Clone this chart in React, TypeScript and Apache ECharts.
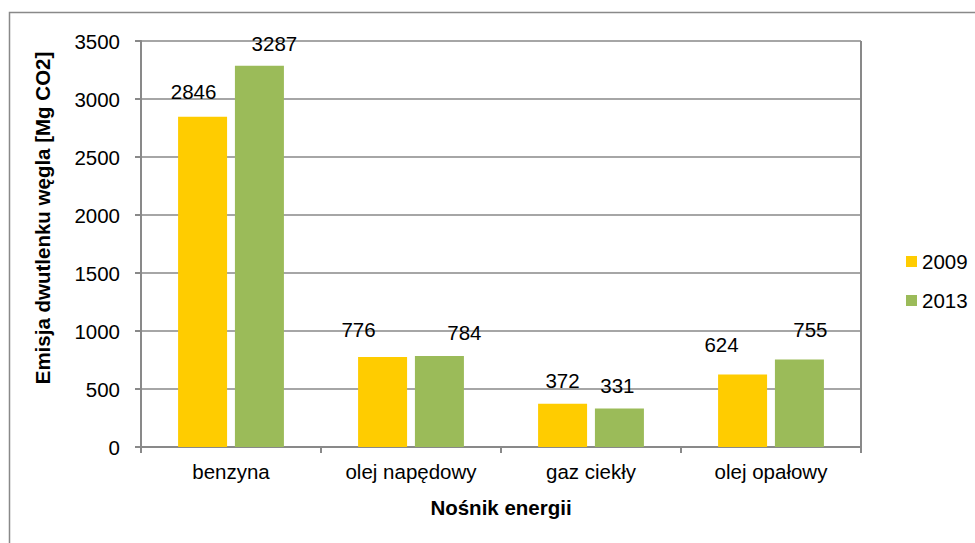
import React, { useEffect, useRef } from "react";
import * as echarts from "echarts";

const categories = ["benzyna", "olej napędowy", "gaz ciekły", "olej opałowy"];
const seriesNames = ["2009", "2013"];
const values2009 = [2846, 776, 372, 624];
const values2013 = [3287, 784, 331, 755];
const yTicks = { min: 0, max: 3500, interval: 500 };

// label nudges (layout only), [dx, dy] in px
const labelNudge2009 = [[-9, -2], [-24, -4], [0, 0], [-21, -7]];
const labelNudge2013 = [[15, 1], [25, 0], [-2, 0], [11, -6]];

const FONT = "'Liberation Sans', Arial, sans-serif";
const FS = 20.5;
const GRAY = "#898989";

export default function App() {
  const ref = useRef<HTMLDivElement>(null);
  useEffect(() => {
    if (!ref.current) return;
    const chart = echarts.init(ref.current, null, { renderer: "svg" });
    const mk = (vals: number[], nudge: number[][]) =>
      vals.map((v, i) => ({ value: v, label: { offset: nudge[i] } }));
    chart.setOption({
      animation: false,
      backgroundColor: "#ffffff",
      textStyle: { fontFamily: FONT },
      grid: { left: 141, right: 114, top: 41, bottom: 96, show: false },
      legend: {
        orient: "vertical",
        left: 901,
        top: 246,
        itemWidth: 11,
        itemHeight: 11,
        itemGap: 18,
        icon: "rect",
        data: seriesNames,
        textStyle: { fontFamily: FONT, fontSize: FS, color: "#000" },
      },
      xAxis: {
        type: "category",
        data: categories,
        name: "Nośnik energii",
        nameLocation: "middle",
        nameGap: 50,
        nameTextStyle: { fontFamily: FONT, fontSize: FS, fontWeight: "bold", color: "#000" },
        axisLine: { show: true, lineStyle: { color: GRAY, width: 2 } },
        axisTick: { show: true, length: 6, lineStyle: { color: GRAY, width: 2 } },
        axisLabel: { fontFamily: FONT, fontSize: FS, color: "#000", margin: 14 },
        splitLine: { show: false },
      },
      yAxis: {
        type: "value",
        min: yTicks.min,
        max: yTicks.max,
        interval: yTicks.interval,
        axisLine: { show: true, lineStyle: { color: GRAY, width: 2 } },
        axisTick: { show: true, length: 6, lineStyle: { color: GRAY, width: 2 } },
        axisLabel: {
          fontFamily: FONT,
          fontSize: FS,
          color: "#000",
          margin: 21,
          formatter: (v: number) => String(v),
        },
        splitLine: { show: true, lineStyle: { color: GRAY, width: 1.5 } },
      },
      graphic: [
        {
          type: "rect",
          shape: { x: 9.5, y: 12.5, width: 1000, height: 600 },
          style: { fill: "none", stroke: GRAY, lineWidth: 1.5 },
          silent: true,
        },
        {
          type: "line",
          shape: { x1: 861, y1: 41, x2: 861, y2: 447 },
          style: { stroke: GRAY, lineWidth: 2 },
          silent: true,
        },
        {
          type: "text",
          x: 42,
          y: 218,
          rotation: Math.PI / 2,
          style: {
            text: "Emisja dwutlenku węgla [Mg CO2]",
            fontFamily: FONT,
            fontSize: FS,
            fontWeight: "bold",
            fill: "#000",
            align: "center",
            verticalAlign: "middle",
          },
        },
      ],
      series: [
        {
          name: seriesNames[0],
          type: "bar",
          data: mk(values2009, labelNudge2009),
          barWidth: 49,
          barGap: "16%",
          itemStyle: { color: "#FFCC00" },
          label: { show: true, position: "top", distance: 13, fontFamily: FONT, fontSize: FS, color: "#000" },
        },
        {
          name: seriesNames[1],
          type: "bar",
          data: mk(values2013, labelNudge2013),
          barWidth: 49,
          barGap: "16%",
          itemStyle: { color: "#9BBB59" },
          label: { show: true, position: "top", distance: 13, fontFamily: FONT, fontSize: FS, color: "#000" },
        },
      ],
    });
    return () => chart.dispose();
  }, []);
  return (
    <div
      ref={ref}
      style={{ position: "absolute", left: 0, top: 0, width: 975, height: 543 }}
    />
  );
}
